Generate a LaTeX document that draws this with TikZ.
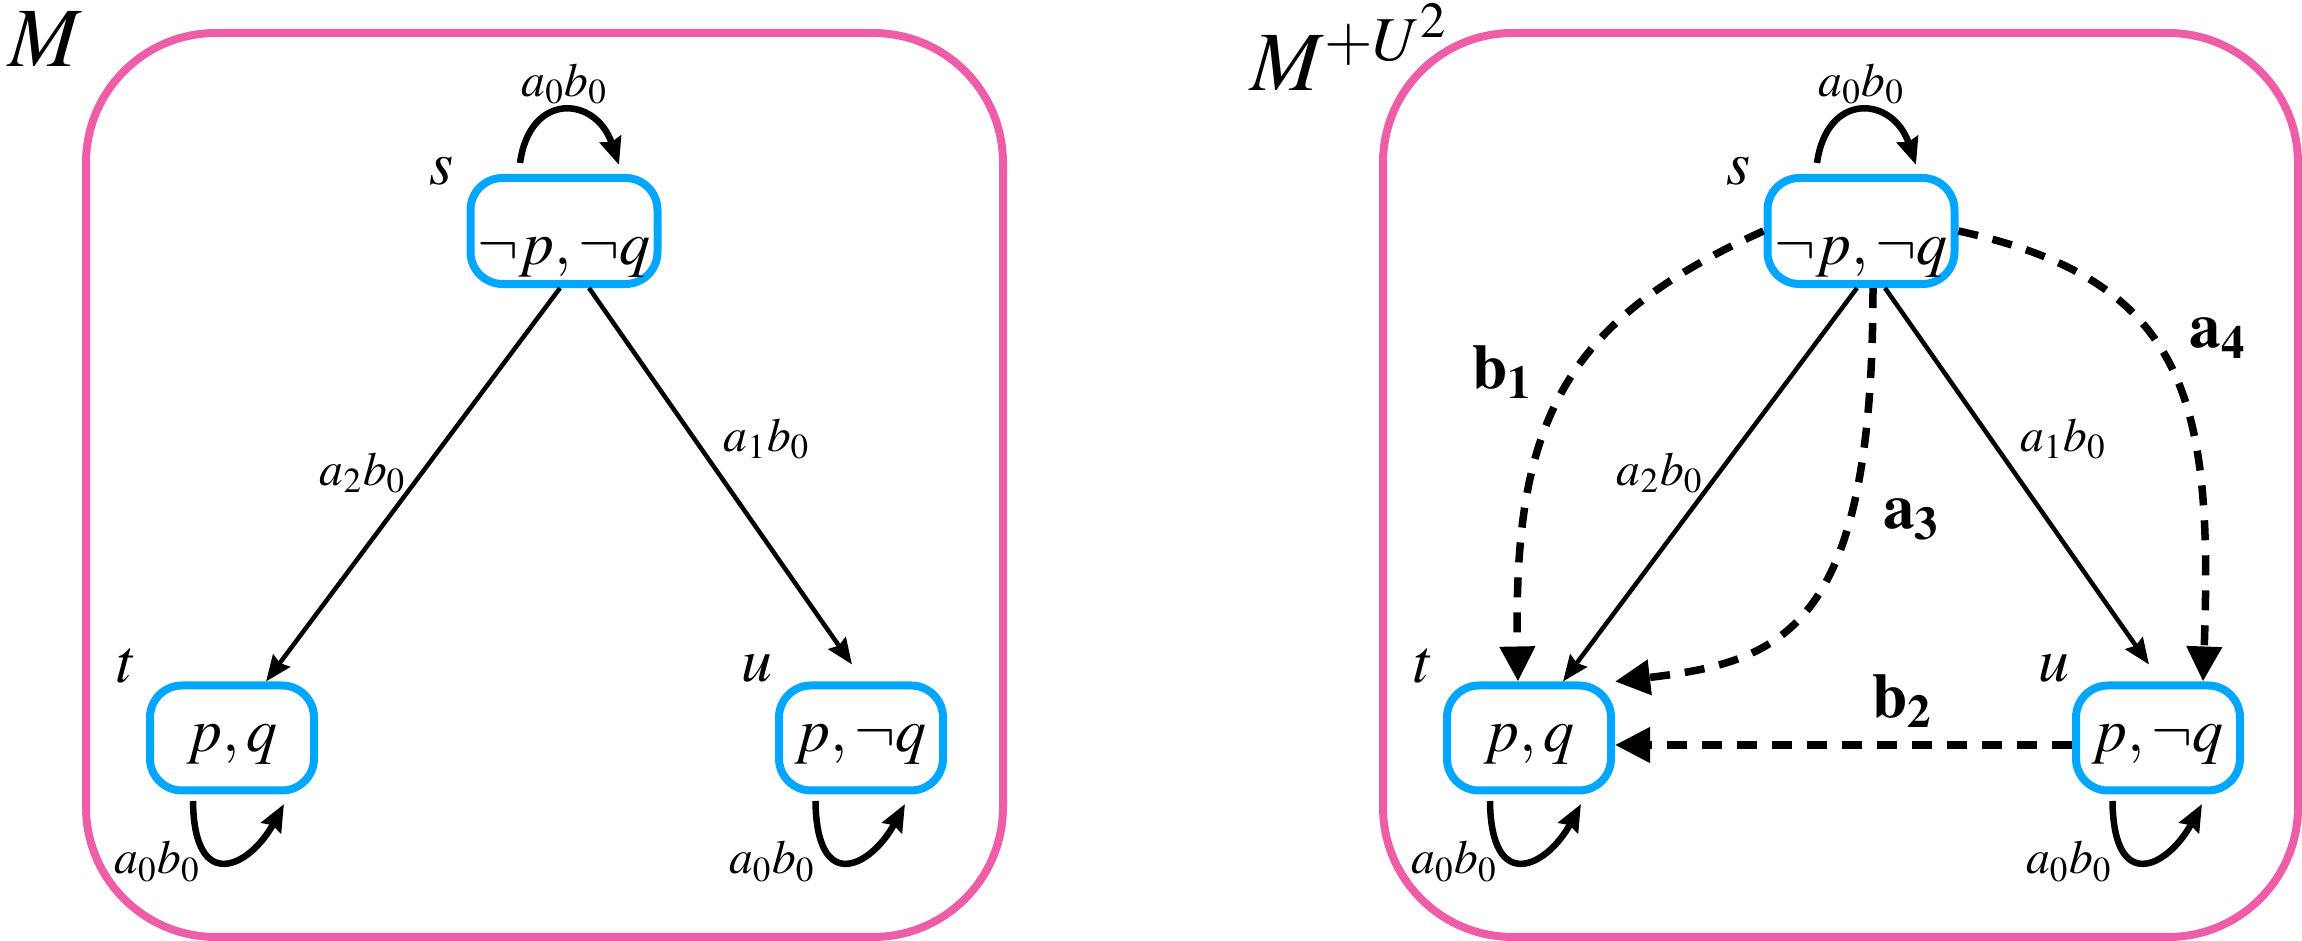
\documentclass[tikz,border=0pt]{standalone}
\usepackage{amsmath}
\usepackage{mathptmx}
\usepackage{tikz}
\usetikzlibrary{arrows.meta}
\definecolor{framepink}{HTML}{EE5DA7}
\definecolor{worldblue}{HTML}{00A6FF}
\tikzstyle{panel} = [draw=framepink, line width=0.08cm, rounded corners=1.3cm]
\tikzstyle{world} = [draw=worldblue, line width=0.08cm, rounded corners=0.32cm,
  minimum width=1.64cm, minimum height=1.05cm, inner sep=2pt,
  text height=0.4cm, text depth=0.13cm, font=\fontsize{17.6}{21}\selectfont]
\tikzstyle{worldname} = [inner sep=0pt, font=\fontsize{17.6}{21}\selectfont]
\tikzstyle{title} = [inner sep=0pt, anchor=base west, font=\fontsize{24}{28}\selectfont]
\tikzstyle{lab} = [inner sep=1pt, font=\fontsize{13.5}{16}\selectfont]
\tikzstyle{boldlab} = [inner sep=1pt, font=\fontsize{18}{21}\selectfont]
\tikzstyle{trans} = [line width=0.045cm, ->, >={Stealth[length=0.26cm, width=0.21cm, inset=0.03cm]}]
\tikzstyle{selfloop} = [line width=0.065cm, ->, >={Stealth[length=0.27cm, width=0.22cm, inset=0.03cm]}]
\tikzstyle{addedge} = [line width=0.075cm, dash pattern=on 0.2cm off 0.15cm, ->,
  >={Triangle[length=0.35cm, width=0.34cm]}]
\begin{document}
\begin{tikzpicture}
    \useasboundingbox (0,0) rectangle (23.02,9.41);
    \draw[panel] (0.86,0.04) rectangle (10.03,9.08);
    \draw[panel] (13.83,0.04) rectangle (22.98,9.08);
    \node[title] (mleft) at (0.08,8.74) {$M$};
    \node[title] (mright) at (12.50,8.50) {$M^{+U^2}$};

    \node[world, minimum width=1.87cm, text height=0.8cm, text depth=0.12cm] (s) at (5.64,7.10) {$\neg p, \neg q$};
    \node[world] (t) at (2.32,2.03) {$p, q$};
    \node[world] (u) at (8.61,2.03) {$p, \neg q$};
    \node[worldname] (sname) at ([shift={(-0.245,0.025)}]s.north west) {$s$};
    \node[worldname] (tname) at ([shift={(-0.19,0.155)}]t.north west) {$t$};
    \node[worldname] (uname) at ([shift={(-0.18,0.135)}]u.north west) {$u$};
    \draw[selfloop] ([shift={(-0.44,0.11)}]s.north) .. controls +(0.10,0.72) and +(-0.23,0.69)
        .. node[lab, above] (sloop) {$a_0b_0$} ([shift={(0.55,0.09)}]s.north);
    \draw[selfloop] ([shift={(-0.39,-0.065)}]t.south) .. controls +(0.01,-0.94) and +(-0.34,-0.63)
        .. node[lab, left=0.19cm] (tloop) {$a_0b_0$} ([shift={(0.52,-0.095)}]t.south);
    \draw[selfloop] ([shift={(-0.455,-0.065)}]u.south) .. controls +(0.01,-0.94) and +(-0.34,-0.63)
        .. node[lab, left=0.26cm] (uloop) {$a_0b_0$} ([shift={(0.44,-0.095)}]u.south);
    \draw[trans] ([xshift=-0.04cm]s.south) -- node[lab, pos=0.47, left=0.1cm] (st) {$a_2b_0$} ([xshift=0.34cm]t.north);
    \draw[trans] ([xshift=0.25cm]s.south) -- node[lab, pos=0.4, right=0.24cm] (su) {$a_1b_0$} ([shift={(-0.09,0.17)}]u.north);

    \node[world, minimum width=1.87cm, text height=0.8cm, text depth=0.12cm] (s2) at (18.61,7.10) {$\neg p, \neg q$};
    \node[world] (t2) at (15.29,2.03) {$p, q$};
    \node[world] (u2) at (21.58,2.03) {$p, \neg q$};
    \node[worldname] (s2name) at ([shift={(-0.245,0.025)}]s2.north west) {$s$};
    \node[worldname] (t2name) at ([shift={(-0.19,0.155)}]t2.north west) {$t$};
    \node[worldname] (u2name) at ([shift={(-0.18,0.135)}]u2.north west) {$u$};
    \draw[selfloop] ([shift={(-0.44,0.11)}]s2.north) .. controls +(0.10,0.72) and +(-0.23,0.69)
        .. node[lab, above] (s2loop) {$a_0b_0$} ([shift={(0.55,0.09)}]s2.north);
    \draw[selfloop] ([shift={(-0.39,-0.065)}]t2.south) .. controls +(0.01,-0.94) and +(-0.34,-0.63)
        .. node[lab, left=0.19cm] (t2loop) {$a_0b_0$} ([shift={(0.52,-0.095)}]t2.south);
    \draw[selfloop] ([shift={(-0.455,-0.065)}]u2.south) .. controls +(0.01,-0.94) and +(-0.34,-0.63)
        .. node[lab, left=0.26cm] (u2loop) {$a_0b_0$} ([shift={(0.44,-0.095)}]u2.south);
    \draw[trans] ([xshift=-0.04cm]s2.south) -- node[lab, pos=0.47, left=0.1cm] (s2t2) {$a_2b_0$} ([xshift=0.34cm]t2.north);
    \draw[trans] ([xshift=0.24cm]s2.south) -- node[lab, pos=0.4, right=0.24cm] (s2u2) {$a_1b_0$} ([shift={(-0.09,0.17)}]u2.north);
    \draw[addedge] (s2.west) .. controls +(-2.0,-0.9) and +(-0.05,2.6)
        .. node[boldlab, pos=0.45, left=0.36cm] (b1) {$\mathbf{b}_{\mathbf{1}}$} ([xshift=-0.11cm]t2.north);
    \draw[addedge] (s2.east) .. controls +(2.3,-0.5) and +(0.1,2.8)
        .. node[boldlab, pos=0.42, right=0.30cm] (a4) {$\mathbf{a}_{\mathbf{4}}$} ([xshift=0.45cm]u2.north);
    \draw[addedge] ([xshift=0.12cm]s2.south) .. controls +(0,-3.4) and +(1.7,0.2)
        .. node[boldlab, pos=0.3, right=0.265cm] (a3) {$\mathbf{a}_{\mathbf{3}}$} (t2.north east);
    \draw[addedge] ([yshift=-0.07cm]u2.west) -- node[boldlab, pos=0.37, above=0.1cm] (b2) {$\mathbf{b}_{\mathbf{2}}$} ([yshift=-0.07cm]t2.east);
\end{tikzpicture}
\end{document}
